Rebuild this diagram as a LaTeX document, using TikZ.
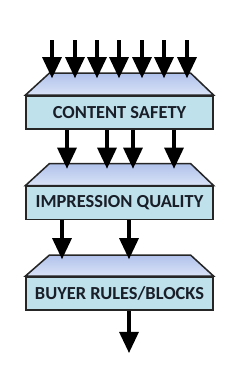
\documentclass[tikz,border=0pt]{standalone}
\usepackage{xcolor}
\usepackage{fontspec}
\setmainfont{Carlito}
\usepackage{tikz}
\usetikzlibrary{arrows.meta, calc}

\definecolor{frontblue}{RGB}{190,225,235}
\definecolor{topdark}{RGB}{176,193,235}
\definecolor{toplight}{RGB}{218,228,247}
\definecolor{inkdark}{RGB}{25,30,40}

\tikzset{
    front/.style={draw=black!85, line width=1.3pt, fill=frontblue, minimum width=5.61cm, minimum height=0.99cm, text=inkdark, font=\fontsize{15.7}{17}\selectfont\bfseries},
    topface/.style={draw=black!85, line width=1.3pt, top color=topdark, bottom color=toplight},
    flow/.style={line width=2.6pt, -{Triangle[length=6.3mm, width=5.7mm]}}
}

\begin{document}
\begin{tikzpicture}[x=0.03cm, y=0.03cm]
    \useasboundingbox (0,0) rectangle (239,379);

    % Stage boxes (front faces)
    \node[front] (cs) at (119.5,266.5) {CONTENT SAFETY};
    \node[front] (iq) at (119.5,176) {IMPRESSION QUALITY};
    \node[front] (br) at (119.5,85.5) {BUYER RULES/BLOCKS};

    % Top faces
    \draw[topface] (cs.north west) -- ++(24,22) coordinate (cstl) -- ($(cs.north east)+(-23,22)$) -- (cs.north east) -- cycle; % Top of content safety
    \draw[topface] (iq.north west) -- ++(24,22) coordinate (iqtl) -- ($(iq.north east)+(-23,22)$) -- (iq.north east) -- cycle; % Top of impression quality
    \draw[topface] (br.north west) -- ++(24,21) coordinate (brtl) -- ($(br.north east)+(-23,21)$) -- (br.north east) -- cycle; % Top of buyer rules

    % Arrow tips land just below each top edge
    \coordinate (cstip) at ($(cstl)+(0,-5)$);
    \coordinate (iqtip) at ($(iqtl)+(0,-5)$);
    \coordinate (brtip) at ($(brtl)+(0,-4)$);
    \coordinate (in) at (0,339);
    \coordinate (out) at (0,26);

    % Incoming requests
    \foreach \x in {52,75,97,119,142,164,187}
        \draw[flow] (\x,0 |- in) -- (\x,0 |- cstip);

    % Passed on to impression quality
    \foreach \x in {67,107,133,174}
        \draw[flow] (\x,0 |- cs.south) -- (\x,0 |- iqtip);

    % Passed on to buyer rules
    \foreach \x in {62,129}
        \draw[flow] (\x,0 |- iq.south) -- (\x,0 |- brtip);

    % Output
    \draw[flow] (129,0 |- br.south) -- (129,0 |- out);
\end{tikzpicture}
\end{document}
